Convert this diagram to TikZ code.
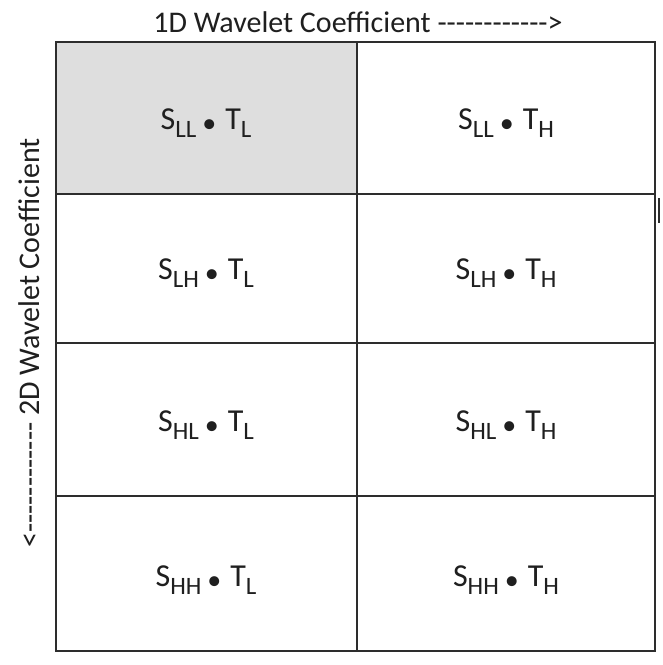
\documentclass[tikz,border=0pt]{standalone}
\usepackage{fontspec}
\setmainfont{Carlito}[Ligatures=TeXOff]
\definecolor{gridgray}{RGB}{45,45,45}
\definecolor{lowshade}{RGB}{222,222,222}
\newcommand\lowsub[1]{\raisebox{-8pt}{\fontsize{25}{25}\selectfont #1}}
\newcommand\dotop{\hspace{6pt}\raisebox{-3.5pt}{\fontsize{28}{28}\selectfont •}\hspace{9pt}}

\begin{document}
\begin{tikzpicture}[
  x=1pt,y=-1pt,
  every node/.style={font=\fontsize{30}{32}\selectfont,text=black!88,inner sep=0pt},
  gridline/.style={line width=1.6pt,draw=gridgray},
  entry/.style={font=\fontsize{32}{34}\selectfont,anchor=base}
]
\path[use as bounding box] (0,0) rectangle (663,665);
\fill[white] (0,0) rectangle (663,665);

% Shaded low-low block, then the 4x2 grid on top of it.
\fill[lowshade] (56,42) rectangle (357,194);
\draw[gridline] (56,42) rectangle (655,651);
\draw[gridline] (357,42) -- (357,651);
\foreach \y in {194,343,496} \draw[gridline] (56,\y) -- (655,\y);
\draw[line width=1.2pt,gridgray] (659,198) -- (659,223);

% Axis captions.
\node (axis1d) at (358,22) {1D Wavelet Coefficient ------------>};
\node[rotate=90] (axis2d) at (29,343) {<------------ 2D Wavelet Coefficient};

% Products of spatial and temporal sub-bands.
\foreach \s/\yc in {LL/129,LH/279,HL/431,HH/586} {
  \node[entry] (s\s-tL) at (206,\yc) {S\lowsub{\s}\dotop T\lowsub{L}};
  \node[entry] (s\s-tH) at (506,\yc) {S\lowsub{\s}\dotop T\lowsub{H}};
}
\end{tikzpicture}
\end{document}
